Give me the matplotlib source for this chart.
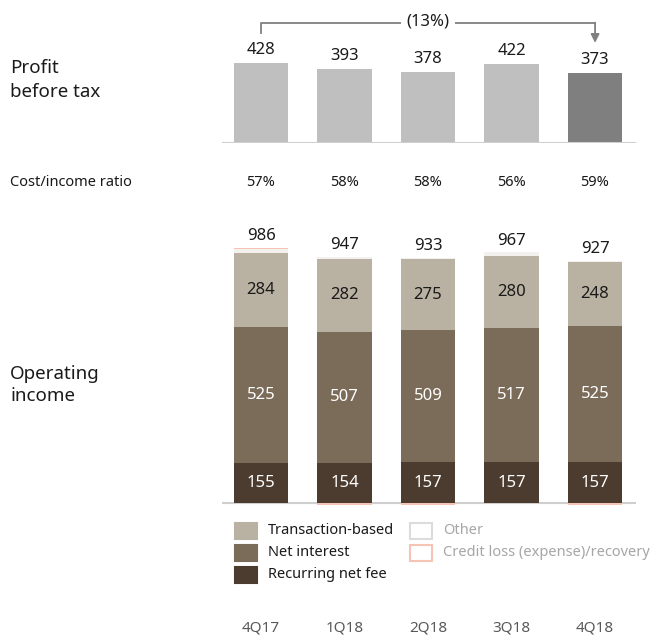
import numpy as np
import matplotlib.pyplot as plt

plt.rcParams['font.family'] = ['Noto Sans', 'DejaVu Sans']

# Data
quarters = ['4Q17', '1Q18', '2Q18', '3Q18', '4Q18']
pbt = [428, 393, 378, 422, 373]
cost_income = ['57%', '58%', '58%', '56%', '59%']
recurring = [155, 154, 157, 157, 157]
net_interest = [525, 507, 509, 517, 525]
transaction = [284, 282, 275, 280, 248]
other = [17, 7, 6, 13, 4]
credit_loss = [4, -6, -8, 0, -6]
totals = [986, 947, 933, 967, 927]
pbt_change = '(13%)'

W, H = 657, 637
fig = plt.figure(figsize=(W / 100, H / 100), dpi=100)


def fy(px):
    return 1 - px / H


x = np.arange(len(quarters))
bw = 0.65
xl = (-0.467, 4.49)
ax_left, ax_w = 222 / W, (636 - 222) / W

# top panel: profit before tax
ax1 = fig.add_axes([ax_left, fy(143), ax_w, 131 / H])
pbt_colors = ['#bfbfbf'] * 4 + ['#7f7f7f']
ax1.bar(x, pbt, width=bw, color=pbt_colors)
ax1.set_xlim(*xl)
ax1.set_ylim(0, 700)
ax1.axhline(0, color='#cfcfcf', lw=1.5)
for xi, v in zip(x, pbt):
    ax1.text(xi, v + 70, str(v), ha='center', va='center', fontsize=12, color='#1a1a1a')
ax1.axis('off')

# bracket with arrow showing the change
gray = '#808080'
ax1.plot([x[0], x[0], x[-1]], [587, 643, 643], color=gray, lw=1.3, clip_on=False)
ax1.annotate('', xy=(x[-1], 535), xytext=(x[-1], 643),
             arrowprops=dict(arrowstyle='-|>,head_width=0.25,head_length=0.5',
                             color=gray, lw=1.3, shrinkA=0, shrinkB=0),
             annotation_clip=False)
ax1.text(x[2], 648, pbt_change, ha='center', va='center', fontsize=12, color='#1a1a1a',
         bbox=dict(facecolor='white', edgecolor='none', pad=4))

# bottom panel: operating income
ax2 = fig.add_axes([ax_left, fy(515), ax_w, 290 / H])
c_tr, c_ni, c_rec = '#b9b1a2', '#7b6b59', '#4c3b2f'
c_credit = '#f5c4b4'
ax2.axhline(0, color='#cfcfcf', lw=1.5, zorder=0)
ax2.bar(x, recurring, width=bw, color=c_rec)
b1 = np.array(recurring)
ax2.bar(x, net_interest, width=bw, bottom=b1, color=c_ni)
b2 = b1 + np.array(net_interest)
ax2.bar(x, transaction, width=bw, bottom=b2, color=c_tr)
b3 = b2 + np.array(transaction)
ax2.bar(x, other, width=bw, bottom=b3, color='#f2f1ee', edgecolor='none')
b4 = b3 + np.array(other)
cl = np.array(credit_loss)
ax2.bar(x, cl, width=bw, bottom=np.where(cl > 0, b4, 0), color=c_credit, zorder=3)
ax2.set_xlim(*xl)
ax2.set_ylim(-46, 1073)
for i in x:
    ax2.text(i, recurring[i] / 2, str(recurring[i]), ha='center', va='center',
             fontsize=12, color='white')
    ax2.text(i, b1[i] + net_interest[i] / 2, str(net_interest[i]), ha='center',
             va='center', fontsize=12, color='white')
    ax2.text(i, b2[i] + transaction[i] / 2, str(transaction[i]), ha='center',
             va='center', fontsize=12, color='#1a1a1a')
    ax2.text(i, max(b4[i], b4[i] + cl[i]) + 45, str(totals[i]), ha='center',
             va='center', fontsize=12, color='#1a1a1a')
ax2.axis('off')

# cost/income ratios and quarter labels
for i, q in enumerate(quarters):
    xf = (261 + 83.5 * i) / W
    fig.text(xf, fy(183), cost_income[i], ha='center', va='center', fontsize=10.5,
             color='#1a1a1a')
    fig.text(xf, fy(628), q, ha='center', va='center', fontsize=11, color='#595959')

# row labels
fig.text(10 / W, fy(80), 'Profit\nbefore tax', ha='left', va='center', fontsize=13.5,
         color='#1a1a1a', linespacing=1.4)
fig.text(10 / W, fy(183), 'Cost/income ratio', ha='left', va='center', fontsize=10.5,
         color='#1a1a1a')
fig.text(10 / W, fy(385), 'Operating\nincome', ha='left', va='center', fontsize=13.5,
         color='#1a1a1a', linespacing=1.3)

# legend drawn as patches and text
legend_items = [
    (235, 531, c_tr, c_tr, 'Transaction-based', '#1a1a1a'),
    (235, 553, c_ni, c_ni, 'Net interest', '#1a1a1a'),
    (235, 575, c_rec, c_rec, 'Recurring net fee', '#1a1a1a'),
    (410, 531, 'white', '#dcdcdc', 'Other', '#a6a6a6'),
    (410, 553, 'white', c_credit, 'Credit loss (expense)/recovery', '#a6a6a6'),
]
for px, py, fc, ec, label, tc in legend_items:
    fig.patches.append(plt.Rectangle((px / W, fy(py + 8)), 22 / W, 16 / H,
                                     transform=fig.transFigure, facecolor=fc,
                                     edgecolor=ec, lw=1.5))
    fig.text((px + 33) / W, fy(py), label, ha='left', va='center', fontsize=10.5,
             color=tc)

fig.savefig('out.png', dpi=100)
